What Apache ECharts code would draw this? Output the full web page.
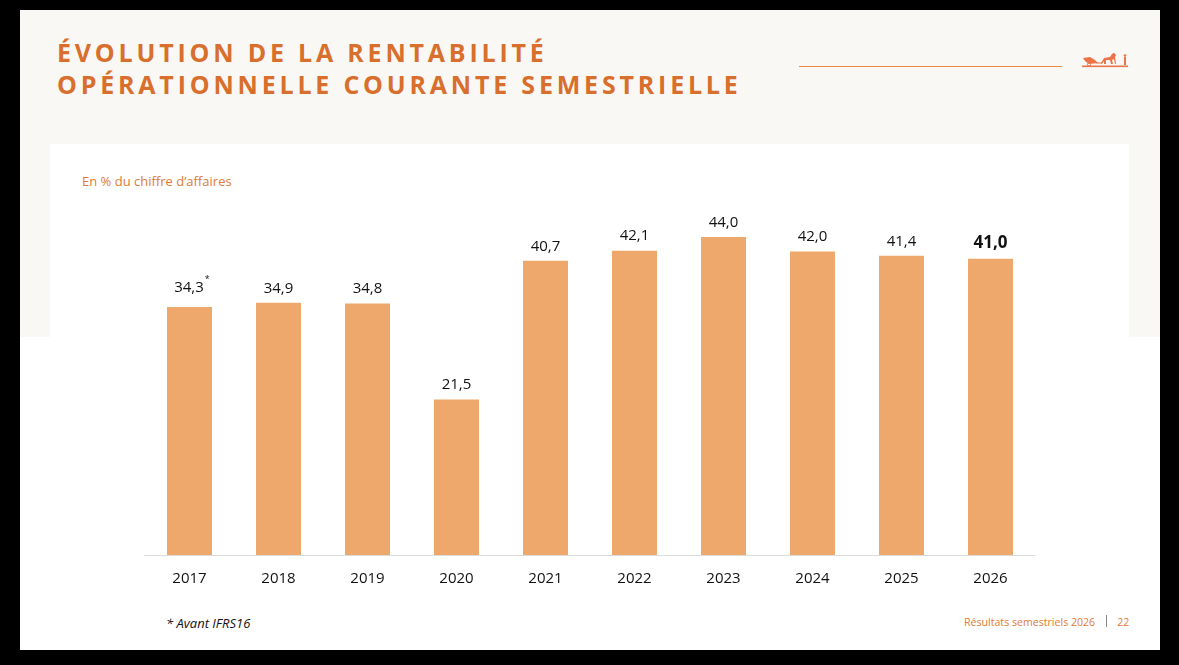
<!DOCTYPE html>
<html>
<head>
<meta charset="utf-8">
<script src="https://cdn.jsdelivr.net/npm/echarts@6/dist/echarts.min.js"></script>
<style>
  html, body { margin:0; padding:0; width:1179px; height:665px; background:#000; overflow:hidden; font-family:"Open Sans", sans-serif; }
  #slide { position:absolute; left:20px; top:10px; width:1140px; height:640px; background:#fff; }
  #beige { position:absolute; left:0; top:0; width:1140px; height:327px; background:#f9f8f5; }
  #panel { position:absolute; left:30px; top:134px; width:1079px; height:506px; background:#fff; }
  #title { position:absolute; left:37px; top:26px; color:#d86f2c; font-weight:700; font-size:25px; line-height:32px; letter-spacing:3.8px; }
  #rule { position:absolute; left:779px; top:56px; width:263px; height:1px; background:#ea8a45; }
  #sub { position:absolute; left:62px; top:162px; color:#e27a35; font-size:13px; }
  #note { position:absolute; left:146px; top:604px; color:#111; font-size:13px; font-style:italic; }
  #foot { position:absolute; left:944px; top:605px; color:#e27a35; font-size:10.6px; }
  #foot span.sep { display:inline-block; width:1px; height:12px; background:#888; margin:0 10px 0 11px; vertical-align:-1px; }
  #chart { position:absolute; left:0; top:0; width:1179px; height:665px; }
</style>
</head>
<body>
<div id="slide">
  <div id="beige"></div>
  <div id="panel"></div>
  <div id="title">ÉVOLUTION DE LA RENTABILITÉ<br>OPÉRATIONNELLE COURANTE SEMESTRIELLE</div>
  <div id="rule"></div>
  <svg style="position:absolute;left:1061px;top:42px" width="48" height="16" viewBox="0 0 48 16">
    <g fill="#ec7348">
      <rect x="1" y="13.5" width="46" height="1.6"/>
      <path d="M2 6 L9 5 L14 8 L17 11 L8 12 L4 9 Z"/>
      <circle cx="8" cy="12.5" r="1.6" fill="none" stroke="#ec7348" stroke-width="1"/>
      <rect x="15" y="10.5" width="6" height="1"/>
      <path d="M20 11 L23 6 L29 5 L31 2 L33 0.8 L35 3 L34 5 L35 12 L34 12 L33 7 L31 8 L32 12 L30 12 L29 8 L25 8 L25 12 L23 12 L23 9 L21 12 Z"/>
      <rect x="43" y="5" width="2" height="8"/>
      <circle cx="44" cy="3.5" r="1.3"/>
    </g>
  </svg>
  <div id="sub">En % du chiffre d’affaires</div>
  <div id="note">* Avant IFRS16</div>
  <div id="foot">Résultats semestriels 2026<span class="sep"></span>22</div>
</div>
<div id="chart"></div>
<script>
const years = ['2017','2018','2019','2020','2021','2022','2023','2024','2025','2026'];
const margins = [34.3, 34.9, 34.8, 21.5, 40.7, 42.1, 44.0, 42.0, 41.4, 41.0];
const footnoteIndex = 0;   // 2017: "Avant IFRS16"
const highlightIndex = 9;  // 2026 shown in bold

const fmt = v => v.toFixed(1).replace('.', ',');

const chart = echarts.init(document.getElementById('chart'), null, { renderer: 'canvas' });
const seriesData = margins.map((v, i) => {
  const item = { value: v };
  if (i === highlightIndex) {
    item.label = { fontWeight: 'bold', fontSize: 17, distance: 7 };
  }
  if (i === footnoteIndex) {
    item.label = {
      formatter: p => '{pad|}{v|' + fmt(p.value) + '}{s|*}',
      rich: {
        pad: { width: 5 },
        v: { fontSize: 15, color: '#111', fontFamily: 'Open Sans' },
        s: { fontSize: 9, color: '#111', width: 5, align: 'left', verticalAlign: 'top', padding: [0, 0, 16, 1] }
      }
    };
  }
  return item;
});

chart.setOption({
  animation: false,
  backgroundColor: 'transparent',
  grid: { left: 145, right: 144, top: 237, bottom: 110, containLabel: false },
  xAxis: {
    type: 'category',
    data: years,
    axisLine: { lineStyle: { color: '#dcdcdc', width: 1 } },
    axisTick: { show: false },
    axisLabel: { color: '#111', fontSize: 15, fontFamily: 'Open Sans', margin: 16 }
  },
  yAxis: { type: 'value', min: 0, max: 44, show: false, splitLine: { show: false } },
  series: [{
    type: 'bar',
    data: seriesData,
    barWidth: 45,
    itemStyle: { color: '#efa86b' },
    label: {
      show: true, position: 'top', distance: 7,
      color: '#111', fontSize: 15, fontFamily: 'Open Sans',
      formatter: p => fmt(p.value)
    }
  }]
});
</script>
</body>
</html>
